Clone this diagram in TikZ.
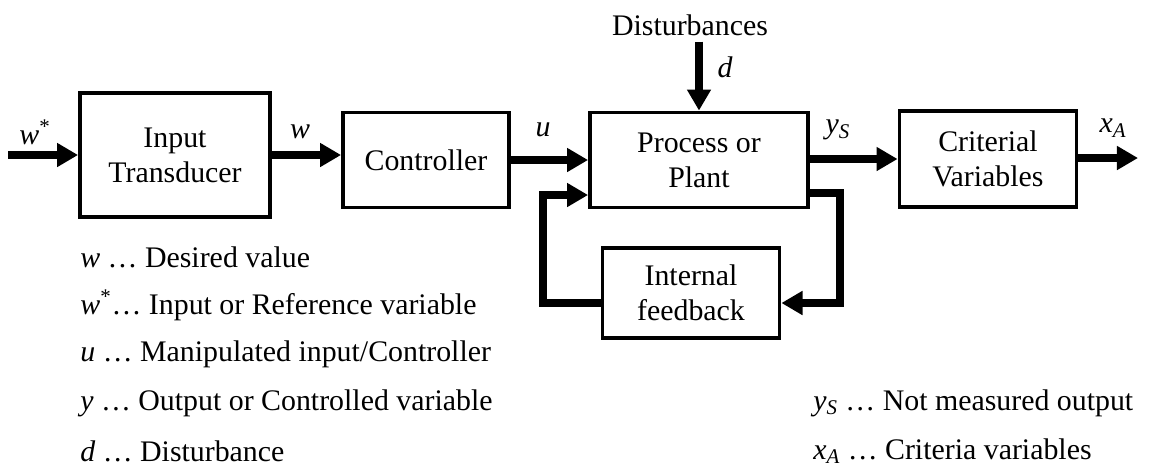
\documentclass[tikz,border=0pt]{standalone}
\usepackage{fontspec}
\setmainfont{Liberation Serif}
\usetikzlibrary{arrows.meta,calc}
\tikzset{
  >={Triangle[length=12pt,width=13pt]},
  block/.style={draw,line width=2.2pt,minimum width=#1,align=center,
    font=\fontsize{17}{20}\selectfont},
  flow/.style={->,line width=5pt},
  back/.style={->,line width=4pt},
  tag/.style={font=\fontsize{17}{20}\selectfont},
  note/.style={anchor=west,inner sep=0pt,font=\fontsize{17}{20}\selectfont},
}

\begin{document}
\begin{tikzpicture}[x=0.02cm,y=-0.02cm]
  \useasboundingbox (0,0) rectangle (1149,468);
  % blocks
  \node[block=3.8cm,minimum height=2.48cm] (inp) at (175,155) {Input\\Transducer};
  \node[block=3.32cm,minimum height=1.9cm] (ctrl) at (426,160) {Controller};
  \node[block=4.36cm,minimum height=1.9cm] (proc) at (699,160) {Process or\\Plant};
  \node[block=3.54cm,minimum height=1.92cm] (crit) at (988,159) {Criterial\\Variables};
  \node[block=3.54cm,minimum height=1.8cm] (fb) at (691,293) {Internal\\feedback};
  \node[tag] (dist) at (690,25) {Disturbances};
  \coordinate (win) at (8,155);
  \coordinate (xout) at (1138,158);
  \coordinate (fbr) at (840,303);
  \coordinate (fbl) at (543,303);
  % signal flow
  \draw[flow] (win) -- (inp.west |- win);
  \draw[flow] (inp.east) -- (inp.east -| ctrl.west);
  \draw[flow] (ctrl.east) -- (ctrl.east -| proc.west);
  \draw[flow] (proc.east |- crit.west) -- (crit.west);
  \draw[flow] (crit.east |- xout) -- (xout);
  \draw[back] (proc.north |- dist.south) -- (proc.north);
  % internal loop
  \draw[back] (proc.east |- 0,193) -| (fbr) -- (fb.east |- fbr);
  \draw[back] (fb.west |- fbl) -- (fbl) |- (proc.west |- 0,195);
  % signal names
  \node[tag] at (35,132) {\textit{w}\textsuperscript{*}};
  \node[tag] at (300,132) {\textit{w}};
  \node[tag] at (543,130) {\textit{u}};
  \node[tag] at (725,67) {\textit{d}};
  \node[tag] at (838,130) {\textit{y}\textsubscript{\textit{S}}};
  \node[tag] at (1113,128) {\textit{x}\textsubscript{\textit{A}}};
  % legend
  \node[note] at (80,257) {\textit{w} \ldots{} Desired value};
  \node[note] at (80,305) {\textit{w}\textsuperscript{*}\ldots{} Input or Reference variable};
  \node[note] at (80,354) {\textit{u} \ldots{} Manipulated input/Controller};
  \node[note] at (80,403) {\textit{y} \ldots{} Output or Controlled variable};
  \node[note] at (80,451) {\textit{d} \ldots{} Disturbance};
  \node[note] at (813,403) {\textit{y}\textsubscript{\textit{S}} \ldots{} Not measured output};
  \node[note] at (813,451) {\textit{x}\textsubscript{\textit{A}} \ldots{} Criteria variables};
\end{tikzpicture}
\end{document}
